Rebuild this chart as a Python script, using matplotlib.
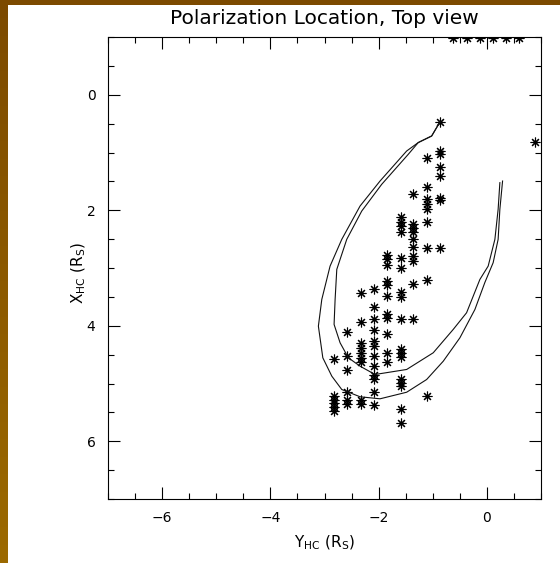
import numpy as np
import matplotlib
matplotlib.use("Agg")
import matplotlib.pyplot as plt
from matplotlib.ticker import MultipleLocator
from matplotlib.colors import LinearSegmentedColormap

# ---- data ----
col_x = [-2.82, -2.58, -2.33, -2.09, -1.85, -1.59, -1.37, -1.11, -0.87]
col_y = [
    [4.57, 5.22, 5.28, 5.33, 5.40, 5.47],
    [4.11, 4.53, 4.76, 5.15, 5.28, 5.35],
    [3.44, 3.94, 4.30, 4.38, 4.47, 4.55, 4.63, 5.29, 5.35],
    [3.37, 3.67, 3.89, 4.07, 4.27, 4.35, 4.53, 4.70, 4.85, 4.92, 5.15, 5.38],
    [2.77, 2.85, 2.94, 3.23, 3.30, 3.49, 3.79, 3.86, 4.14, 4.47, 4.63],
    [2.12, 2.20, 2.28, 2.38, 2.83, 3.00, 3.42, 3.51, 3.89, 4.40, 4.47, 4.54,
     4.93, 4.99, 5.05, 5.44, 5.69],
    [1.72, 2.23, 2.30, 2.38, 2.50, 2.64, 2.79, 2.88, 3.27, 3.89],
    [1.10, 1.59, 1.81, 1.90, 1.97, 2.21, 2.65, 3.21, 5.22],
    [0.47, 0.97, 1.02, 1.25, 1.41, 1.79, 1.83, 2.66],
]
top_x = [-0.63, -0.36, -0.12, 0.12, 0.35, 0.59]
top_y = [-0.98, -0.98, -0.98, -0.98, -0.98, -0.98]
lone_x = [0.89]
lone_y = [0.82]

outer_x = [-0.867, -1.020, -1.268, -1.482, -1.974, -2.343, -2.681, -2.897, -3.050,
           -3.113, -3.031, -2.865, -2.681, -2.343, -1.974, -1.482, -1.113, -0.806,
           -0.498, -0.221, -0.037, 0.116, 0.208, 0.240, 0.290]
outer_y = [0.471, 0.714, 0.828, 0.974, 1.494, 1.927, 2.504, 2.967, 3.544,
           4.007, 4.555, 4.873, 5.104, 5.230, 5.265, 5.151, 4.931, 4.614,
           4.208, 3.718, 3.250, 2.908, 2.504, 1.984, 1.494]
inner_x = [-0.867, -1.020, -1.268, -1.452, -1.943, -2.312, -2.589, -2.773, -2.804,
           -2.823, -2.712, -2.559, -2.343, -2.066, -1.482, -0.991, -0.622, -0.375,
           -0.129, 0.024, 0.148, 0.208, 0.240]
inner_y = [0.471, 0.714, 0.828, 1.031, 1.551, 2.014, 2.504, 3.024, 3.544,
           3.977, 4.295, 4.555, 4.700, 4.844, 4.757, 4.468, 4.064, 3.775,
           3.198, 2.967, 2.504, 1.984, 1.522]

title = "Polarization Location, Top view"
xlabel = r"$\mathregular{Y_{HC}\ (R_S)}$"
ylabel = r"$\mathregular{X_{HC}\ (R_S)}$"
xtick_vals = [-6, -4, -2, 0]
xtick_text = ["\u22126", "\u22124", "\u22122", "0"]

# ---- figure ----
fig = plt.figure(figsize=(5.6, 5.63), dpi=100)
fig.patch.set_facecolor("white")

# brown frame (left and top)
grad = np.linspace(0, 1, 256).reshape(-1, 1)
cmap = LinearSegmentedColormap.from_list("br", ["#7c4a00", "#9c6a00"])
axl = fig.add_axes([0, 0, 8 / 560, 1])
axl.imshow(grad, aspect="auto", cmap=cmap, extent=[0, 1, 1, 0])
axl.axis("off")
axt = fig.add_axes([0, 1 - 5 / 563, 1, 5 / 563])
axt.set_facecolor("#7c4a00")
axt.set_xticks([]); axt.set_yticks([])
for s in axt.spines.values():
    s.set_visible(False)

ax = fig.add_axes([108 / 560, 1 - 499 / 563, (541 - 108) / 560, (499 - 37) / 563])

mk = dict(marker=(8, 2, 0), markersize=7, color="black", linestyle="none",
          markeredgewidth=0.8)
for cx, ys in zip(col_x, col_y):
    ax.plot([cx] * len(ys), ys, **mk)
ax.plot(top_x, top_y, **mk)
ax.plot(lone_x, lone_y, **mk)

ax.plot(outer_x, outer_y, color="#111111", lw=0.8)
ax.plot(inner_x, inner_y, color="#111111", lw=0.8)

ax.set_xlim(-7, 1)
ax.set_ylim(7, -1)
ax.xaxis.set_major_locator(MultipleLocator(2))
ax.xaxis.set_minor_locator(MultipleLocator(0.5))
ax.yaxis.set_major_locator(MultipleLocator(2))
ax.yaxis.set_minor_locator(MultipleLocator(0.5))
ax.tick_params(which="both", direction="in", top=True, right=True, width=0.8,
               labelsize=10)
ax.tick_params(which="major", length=8.5, pad=9)
ax.tick_params(which="minor", length=4.5)
for s in ax.spines.values():
    s.set_linewidth(0.8)
ax.set_xticks(xtick_vals)
ax.set_xticklabels(xtick_text)

ax.set_title(title, fontsize=14.5, pad=9)
ax.set_xlabel(xlabel, fontsize=11)
ax.xaxis.set_label_coords(0.5, -0.075)
ax.set_ylabel(ylabel, fontsize=11)
ax.yaxis.set_label_coords(-0.047, 0.49)

fig.savefig("out.png", dpi=100, facecolor="white")
